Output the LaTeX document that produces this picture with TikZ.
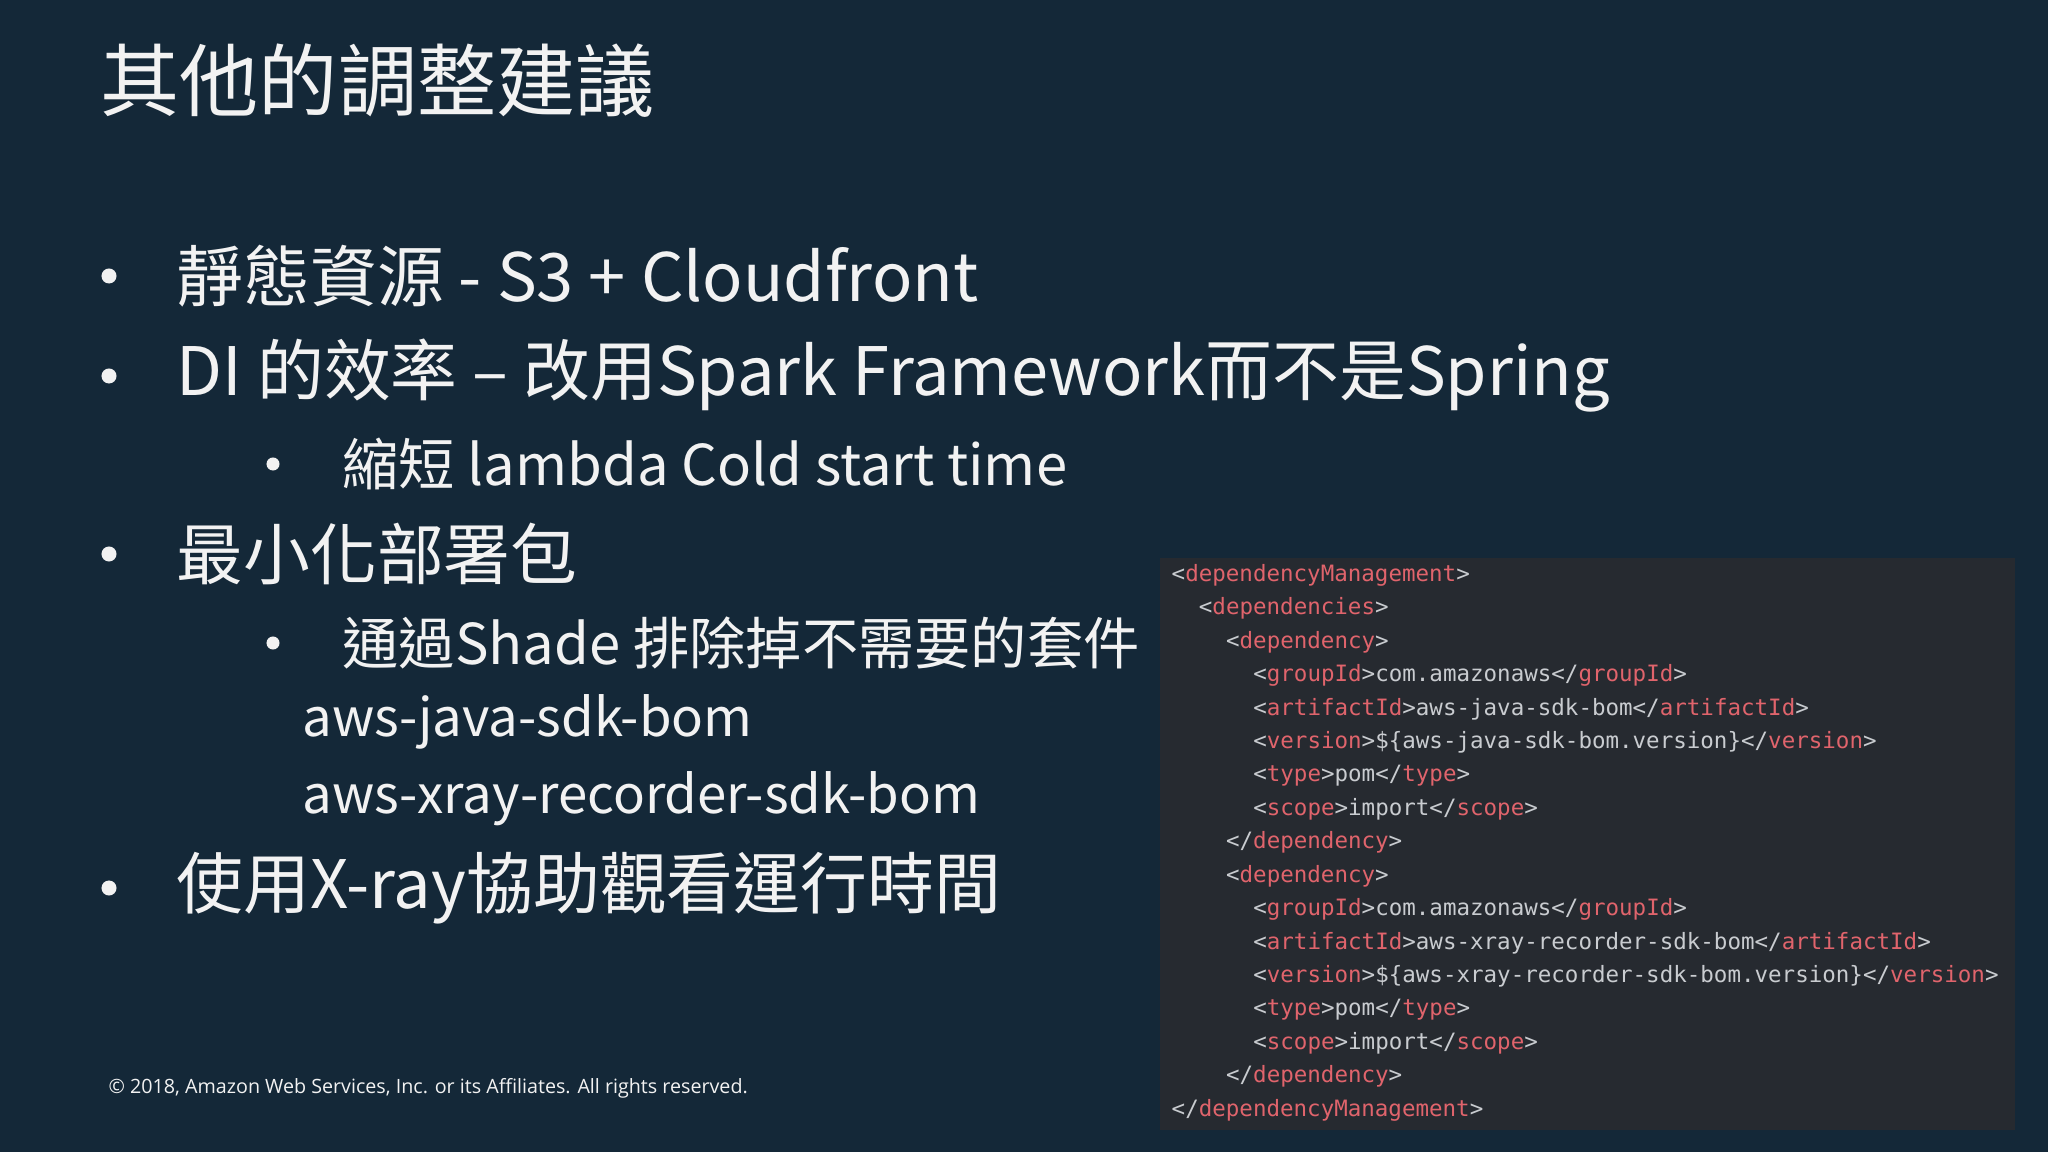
\documentclass[tikz,border=0pt]{standalone}
\usepackage{fontspec}
\setmainfont{Noto Sans CJK TC}
\setsansfont{Open Sans}
\setmonofont{DejaVu Sans Mono}
\definecolor{bg}{HTML}{142838}
\definecolor{panel}{HTML}{262A30}
\definecolor{tag}{HTML}{E0646C}
\definecolor{val}{HTML}{C9CCD0}
\definecolor{txt}{HTML}{F2F2F2}
\newcommand{\tg}[1]{\textcolor{tag}{#1}}
\tikzset{
 ttl/.style={anchor=west,text=txt,font=\fontsize{22.5}{27}\selectfont,inner sep=0},
 bl/.style={anchor=west,text=txt,font=\fontsize{19}{23}\selectfont,inner sep=0},
 sb/.style={anchor=west,text=txt,font=\fontsize{16}{19}\selectfont,inner sep=0},
 aw/.style={anchor=west,text=txt,font=\fontsize{15}{18}\selectfont,inner sep=0},
 dot/.style={circle,fill=txt,minimum size=0.15cm,inner sep=0},
 sdot/.style={circle,fill=txt,minimum size=0.13cm,inner sep=0},
 code/.style={anchor=west,text=val,font=\ttfamily\fontsize{6.4}{8}\selectfont,inner sep=0},
}
\begin{document}
\begin{tikzpicture}[x=0.01cm,y=-0.01cm]
\fill[bg] (0,0) rectangle (2048,1152);
\useasboundingbox (0,0) rectangle (2048,1152);
\node[ttl] (title) at (100,81) {其他的調整建議};
\node[dot] (d1) at (109,276) {}; \node[bl] (b1) at (176,276) {靜態資源 - S3 + Cloudfront};
\node[dot] (d2) at (109,376) {}; \node[bl] (b2) at (176,376) {DI 的效率 – 改用Spark Framework而不是Spring};
\node[sdot] (s1) at (273,464) {}; \node[sb] (t1) at (342,464) {縮短 lambda Cold start time};
\node[dot] (d3) at (109,554) {}; \node[bl] (b3) at (176,554) {最小化部署包};
\node[sdot] (s2) at (273,643) {}; \node[sb] (t2) at (342,643) {通過Shade 排除掉不需要的套件};
\node[aw] (a1) at (302,722) {aws-java-sdk-bom};
\node[aw] (a2) at (302,799) {aws-xray-recorder-sdk-bom};
\node[dot] (d4) at (109,888) {}; \node[bl] (b4) at (176,888) {使用X-ray協助觀看運行時間};
\node[anchor=west,text=txt,font=\sffamily\fontsize{5.6}{7}\selectfont,inner sep=0] (cp) at (108,1088) {© 2018, Amazon Web Services, Inc. or its Affiliates. All rights reserved.};
\fill[panel] (1160,558) rectangle (2015,1130);
\foreach \i/\l/\s in {
0/0/{<\tg{dependencyManagement}>},
1/1/{<\tg{dependencies}>},
2/2/{<\tg{dependency}>},
3/3/{<\tg{groupId}>com.amazonaws</\tg{groupId}>},
4/3/{<\tg{artifactId}>aws-java-sdk-bom</\tg{artifactId}>},
5/3/{<\tg{version}>\$\{aws-java-sdk-bom.version\}</\tg{version}>},
6/3/{<\tg{type}>pom</\tg{type}>},
7/3/{<\tg{scope}>import</\tg{scope}>},
8/2/{</\tg{dependency}>},
9/2/{<\tg{dependency}>},
10/3/{<\tg{groupId}>com.amazonaws</\tg{groupId}>},
11/3/{<\tg{artifactId}>aws-xray-recorder-sdk-bom</\tg{artifactId}>},
12/3/{<\tg{version}>\$\{aws-xray-recorder-sdk-bom.version\}</\tg{version}>},
13/3/{<\tg{type}>pom</\tg{type}>},
14/3/{<\tg{scope}>import</\tg{scope}>},
15/2/{</\tg{dependency}>},
16/0/{</\tg{dependencyManagement}>}}
{\node[code] (c\i) at (1171+27.2*\l,575+33.45*\i) {\s};}
\end{tikzpicture}
\end{document}
